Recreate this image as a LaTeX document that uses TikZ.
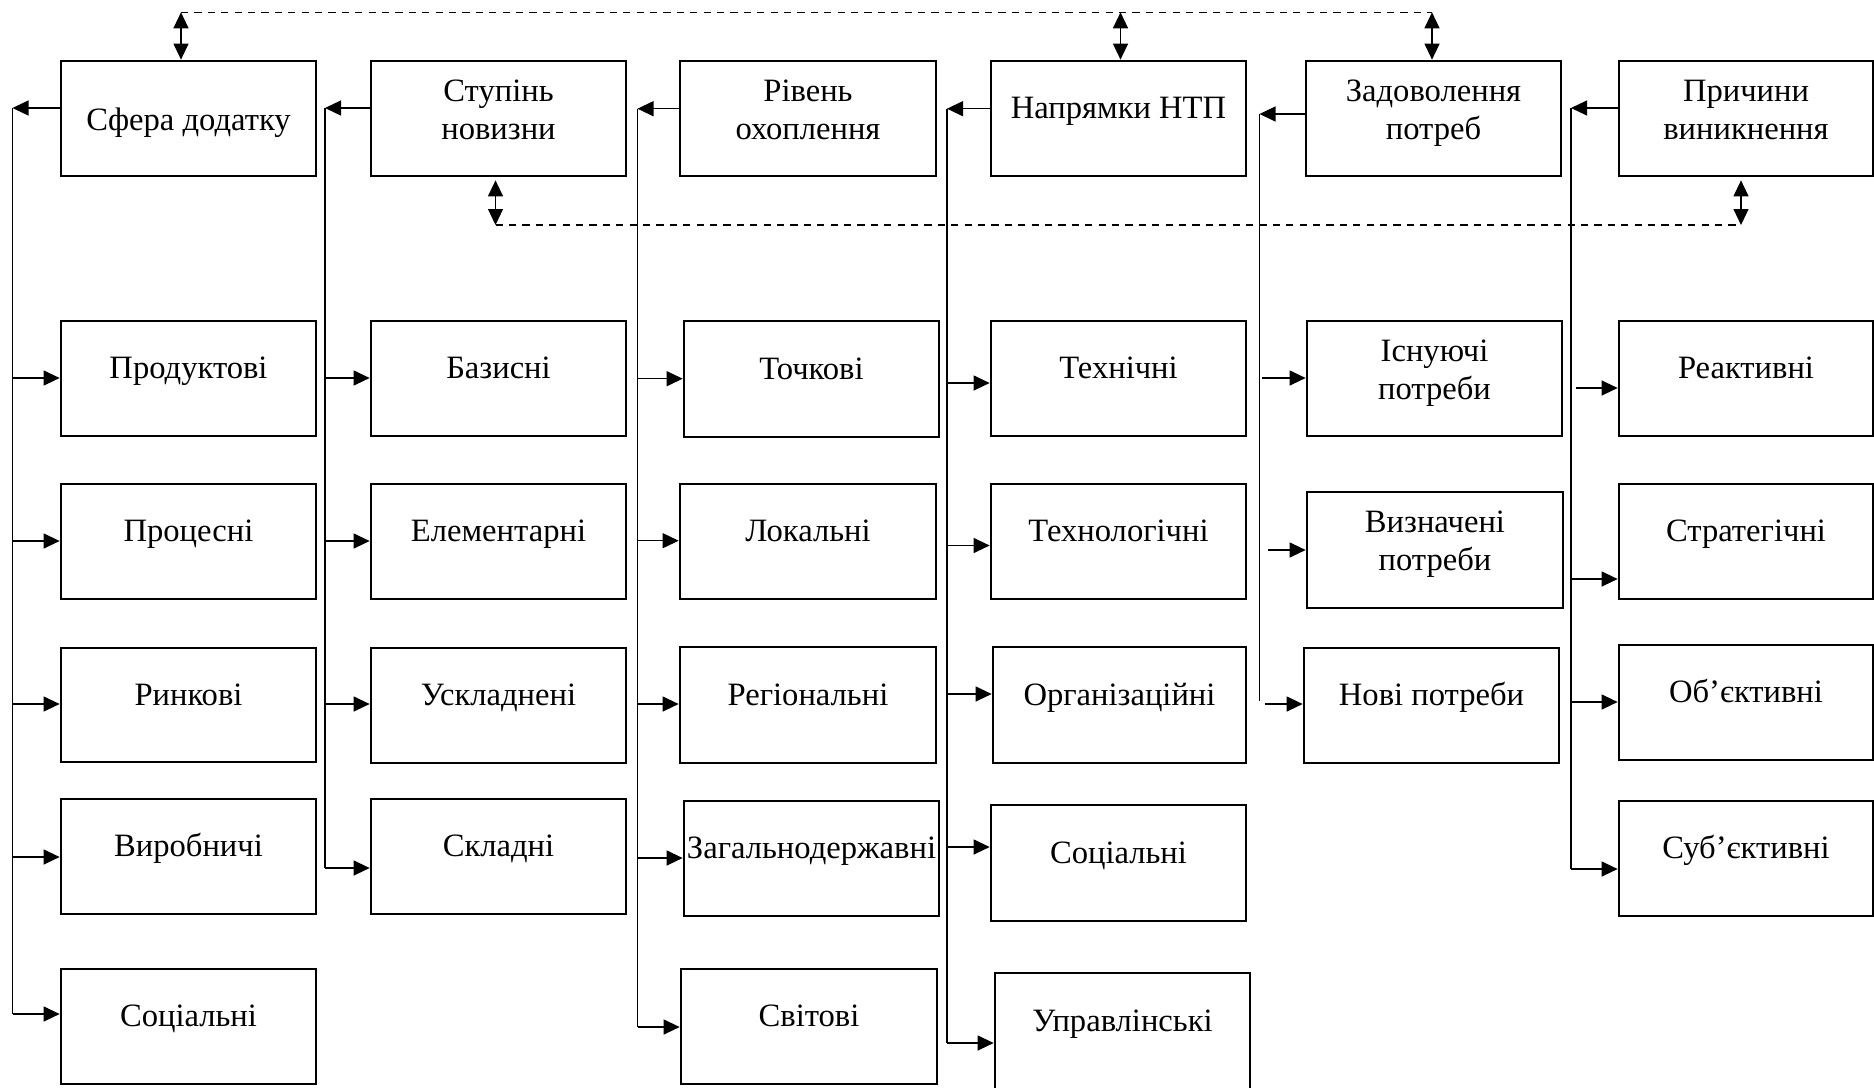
\documentclass[tikz,border=0pt]{standalone}
\usepackage{fontspec}
\setmainfont{Liberation Serif}
\usetikzlibrary{arrows.meta}
\newcommand\twol[2]{\raisebox{8.75pt}{\begin{tabular}[t]{@{}c@{}}#1\\#2\end{tabular}}}
\newcommand\bx[6]{\node[box, minimum width={(#4-#2)*0.5pt}, minimum height={(#5-#3)*0.5pt}] (#1) at ({(#2+#4)/2},{(#3+#5)/2}) {#6};}
\tikzset{
  box/.style={draw, line width=1.35pt, rectangle, inner sep=0pt, text height=8pt, text depth=8pt, font=\fontsize{16.3}{19}\selectfont},
  conn/.style={line width=0.6pt},
  arr/.style={conn, -{Triangle[length=8pt,width=7.5pt]}},
  darr/.style={conn, {Triangle[length=8pt,width=7.5pt]}-{Triangle[length=8pt,width=7.5pt]}},
  dline/.style={line width=0.8pt, dash pattern=on 3.6pt off 3.1pt},
}
\begin{document}
\begin{tikzpicture}[x=0.5pt,y=-0.5pt]
\useasboundingbox (0,0) rectangle (1874,1087);
\clip (0,0) rectangle (1874,1087);
\fill[white] (0,0) rectangle (1874,1087);
% boxes
\bx{a0}{61}{61}{316}{176}{\raisebox{-5.75pt}{Сфера додатку}}
\bx{a1}{61}{321}{316}{436}{Продуктові}
\bx{a2}{61}{484}{316}{599}{Процесні}
\bx{a3}{61}{648}{316}{762}{Ринкові}
\bx{a4}{61}{799}{316}{914}{Виробничі}
\bx{a5}{61}{969}{316}{1084}{Соціальні}
\bx{b0}{371}{61}{626}{176}{\twol{Ступінь}{новизни}}
\bx{b1}{371}{321}{626}{436}{Базисні}
\bx{b2}{371}{484}{626}{599}{Елементарні}
\bx{b3}{371}{648}{626}{763}{Ускладнені}
\bx{b4}{371}{799}{626}{914}{Складні}
\bx{c0}{680}{61}{936}{176}{\twol{Рівень}{охоплення}}
\bx{c1}{684}{321}{939}{437}{Точкові}
\bx{c2}{680}{484}{936}{599}{Локальні}
\bx{c3}{680}{647}{936}{763}{Регіональні}
\bx{c4}{684}{801}{939}{916}{Загальнодержавні}
\bx{c5}{681}{969}{937}{1084}{Світові}
\bx{d0}{991}{61}{1246}{176}{Напрямки НТП}
\bx{d1}{991}{321}{1246}{436}{Технічні}
\bx{d2}{991}{484}{1246}{599}{Технологічні}
\bx{d3}{993}{647}{1246}{763}{Організаційні}
\bx{d4}{991}{805}{1246}{921}{Соціальні}
\bx{d5}{995}{973}{1250}{1090}{Управлінські}
\bx{e0}{1306}{61}{1561}{176}{\twol{Задоволення}{потреб}}
\bx{e1}{1307}{321}{1562}{436}{\twol{Існуючі}{потреби}}
\bx{e2}{1307}{492}{1563}{608}{\twol{Визначені}{потреби}}
\bx{e3}{1304}{648}{1559}{763}{Нові потреби}
\bx{f0}{1619}{61}{1873}{176}{\twol{Причини}{виникнення}}
\bx{f1}{1619}{321}{1873}{436}{Реактивні}
\bx{f2}{1619}{484}{1873}{599}{Стратегічні}
\bx{f3}{1619}{645}{1873}{760}{Об’єктивні}
\bx{f4}{1619}{801}{1873}{916}{Суб’єктивні}
% column 1
\coordinate (s1) at (12.5,108); \coordinate (s1e) at (12.5,1014);
\draw[arr] (a0.west |- s1) -- (s1);
\draw[conn] (s1) -- (s1e);
\foreach \n/\yy in {a1/378,a2/541,a3/704,a4/857,a5/1014}{\coordinate (j) at (12.5,\yy); \draw[arr] (j) -- (j -| \n.west);}
% column 2
\coordinate (s2) at (325,108); \coordinate (s2e) at (325,868);
\draw[arr] (b0.west |- s2) -- (s2);
\draw[conn] (s2) -- (s2e);
\foreach \n/\yy in {b1/378,b2/541,b3/704,b4/868}{\coordinate (j) at (325,\yy); \draw[arr] (j) -- (j -| \n.west);}
% column 3
\coordinate (s3) at (637.5,108.7); \coordinate (s3e) at (637.5,1027);
\draw[arr] (c0.west |- s3) -- (s3);
\draw[conn] (s3) -- (s3e);
\foreach \n/\yy in {c1/378.7,c2/540.7,c3/704,c4/858,c5/1027}{\coordinate (j) at (637.5,\yy); \draw[arr] (j) -- (j -| \n.west);}
% column 4
\coordinate (s4) at (947,108.7); \coordinate (s4e) at (947,1043);
\draw[arr] (d0.west |- s4) -- (s4);
\draw[conn] (s4) -- (s4e);
\foreach \n/\yy in {d1/383,d2/545.5,d3/694,d4/847,d5/1043}{\coordinate (j) at (947,\yy); \draw[arr] (j) -- (j -| \n.west);}
% column 5
\coordinate (s5) at (1259.5,114); \coordinate (s5e) at (1259.5,701);
\draw[arr] (e0.west |- s5) -- (s5);
\draw[conn] (s5) -- (s5e);
\foreach \n/\xx/\yy in {e1/1262/378,e2/1268/550,e3/1264.5/704}{\coordinate (j) at (\xx,\yy); \draw[arr] (j) -- (j -| \n.west);}
% column 6
\coordinate (s6) at (1571,108); \coordinate (s6e) at (1571,869);
\draw[arr] (f0.west |- s6) -- (s6);
\draw[conn] (s6) -- (s6e);
\foreach \n/\xx/\yy in {f1/1576/388,f2/1571/579,f3/1571/702,f4/1571/869}{\coordinate (j) at (\xx,\yy); \draw[arr] (j) -- (j -| \n.west);}
% top dashed link
\coordinate (t1) at (181,12.3); \coordinate (t2) at (1120.5,12.3); \coordinate (t3) at (1432,12.3);
\draw[dline] (t1) -- (t3);
\draw[darr] (t1) -- (t1 |- a0.north);
\draw[darr] (t2) -- (t2 |- d0.north);
\draw[darr] (t3) -- (t3 |- e0.north);
% bottom dashed link
\coordinate (u1) at (495.5,225); \coordinate (u2) at (1741,225);
\draw[dline] (u1) -- (u2);
\path (b0.south -| u1) ++(0,3) coordinate (u1a);
\path (f0.south -| u2) ++(0,3) coordinate (u2a);
\draw[darr] (u1a) -- (u1);
\draw[darr] (u2a) -- (u2);
\end{tikzpicture}
\end{document}
